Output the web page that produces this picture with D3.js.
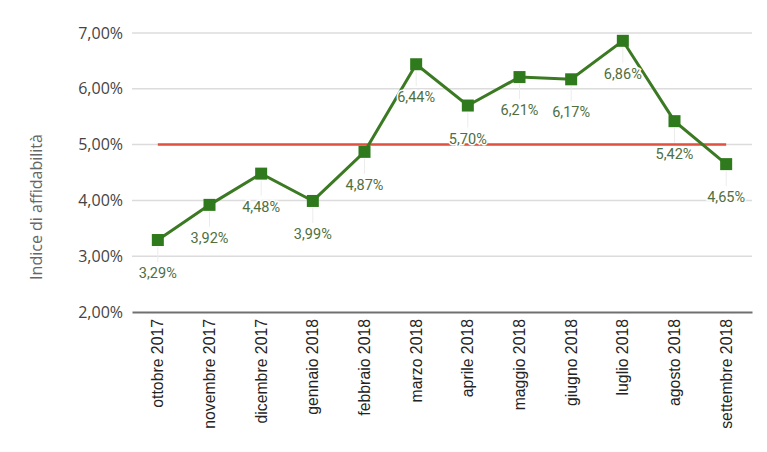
<!DOCTYPE html>
<html><head><meta charset="utf-8">
<script src="https://cdn.jsdelivr.net/npm/d3@7"></script>
<style>body{margin:0;background:#fff}svg{display:block}</style>
</head><body>
<svg id="c" width="767" height="452"></svg>
<script>
const categories = ["ottobre 2017","novembre 2017","dicembre 2017","gennaio 2018","febbraio 2018","marzo 2018","aprile 2018","maggio 2018","giugno 2018","luglio 2018","agosto 2018","settembre 2018"];
const values = [3.29,3.92,4.48,3.99,4.87,6.44,5.70,6.21,6.17,6.86,5.42,4.65];
const threshold = [5,5,5,5,5,5,5,5,5,5,5,5];
const yTicks = [2,3,4,5,6,7];
const yTitle = "Indice di affidabilità";

(function(){
const svg = d3.select("#c");
const mLeft = 132, mRight = 752, mTop = 33, mBottom = 312;
const x = d3.scaleBand().domain(categories).range([mLeft, mRight]);
const y = d3.scaleLinear().domain([2,7]).range([mBottom, mTop]);
const fmt = v => v.toFixed(2).replace(".", ",") + "%";
const cx = d => x(d) + x.bandwidth()/2;

// grid
svg.append("g").selectAll("line").data(yTicks.filter(t=>t>2)).join("line")
  .attr("x1", mLeft).attr("x2", mRight).attr("y1", d=>y(d)).attr("y2", d=>y(d))
  .attr("stroke", "#dcdcdc").attr("stroke-width", 1.5);

// y axis labels
const yAxis = d3.axisLeft(y).tickValues(yTicks).tickSize(0).tickPadding(9).tickFormat(fmt);
const ga = svg.append("g").attr("transform", `translate(${mLeft},0)`).call(yAxis);
ga.select(".domain").remove();
ga.selectAll("text").attr("font-family","'Open Sans', sans-serif").attr("font-size",16).attr("fill","#444");

// x axis
const xAxis = d3.axisBottom(x).tickSize(0).tickPadding(8);
const gx = svg.append("g").attr("transform", `translate(0,${mBottom})`).call(xAxis);
gx.select(".domain").attr("stroke","#707070").attr("stroke-width",2);
gx.selectAll("text").attr("font-family","'Liberation Sans', Arial, sans-serif").attr("font-size",15.8).attr("fill","#222")
  .attr("text-anchor","end").attr("transform","rotate(-90)").attr("dy","0.35em").attr("x",-7).attr("y",0);

// y title
svg.append("text").attr("transform","translate(42,207) rotate(-90)").attr("text-anchor","middle")
  .attr("font-family","'Open Sans', sans-serif").attr("font-size",16).attr("fill","#666").text(yTitle);

// leader lines
svg.append("g").selectAll("line").data(categories).join("line")
  .attr("x1", d=>cx(d)).attr("x2", d=>cx(d))
  .attr("y1", (d,i)=>y(values[i])+7).attr("y2",(d,i)=>y(values[i])+22)
  .attr("stroke","#ececec").attr("stroke-width",1);

// threshold
svg.append("path").datum(threshold)
  .attr("d", d3.line().x((d,i)=>cx(categories[i])).y(d=>y(d)))
  .attr("fill","none").attr("stroke","#e0513f").attr("stroke-width",2.5);

// series line
svg.append("path").datum(values)
  .attr("d", d3.line().x((d,i)=>cx(categories[i])).y(d=>y(d)))
  .attr("fill","none").attr("stroke","#3b7a22").attr("stroke-width",3);

// markers
const s = 12;
svg.append("g").selectAll("rect").data(values).join("rect")
  .attr("x",(d,i)=>cx(categories[i])-s/2).attr("y",d=>y(d)-s/2)
  .attr("width",s).attr("height",s).attr("fill","#2f7a1c");

// data labels
svg.append("g").selectAll("text").data(values).join("text")
  .attr("x",(d,i)=>cx(categories[i])).attr("y",d=>y(d)+38)
  .attr("text-anchor","middle").attr("font-family","Roboto, sans-serif").attr("font-size",14.5)
  .attr("fill","#4f6f3f").attr("stroke","#fff").attr("stroke-width",3).attr("paint-order","stroke")
  .text(fmt);
})();
</script>
</body></html>
